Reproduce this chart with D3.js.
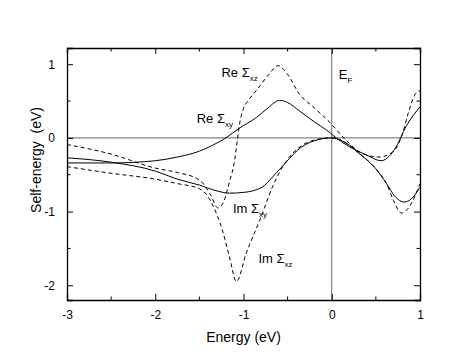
<!DOCTYPE html>
<html>
<head>
<meta charset="utf-8">
<script src="https://cdn.jsdelivr.net/npm/d3@7"></script>
<style>
  body { margin: 0; background: #fff; }
  text { font-family: "Liberation Sans", Arial, sans-serif; }
</style>
</head>
<body>
<div id="chart"></div>
<script>
// Re Σxy (solid)
const reXyE = [-3, -2.5, -2.0, -1.75, -1.5, -1.35, -1.2, -1.05, -0.85, -0.72, -0.59, -0.5, -0.37, -0.2, -0.03, 0.05, 0.2, 0.39, 0.56, 0.65, 0.73, 0.84, 0.92, 1.0];
const reXyV = [-0.34, -0.34, -0.31, -0.26, -0.18, -0.1, 0.0, 0.13, 0.28, 0.41, 0.51, 0.48, 0.37, 0.22, 0.08, 0.0, -0.12, -0.23, -0.31, -0.25, -0.12, 0.15, 0.3, 0.42];
// Re Σxz (dashed)
const reXzE = [-3, -2.5, -2.0, -1.75, -1.5, -1.37, -1.29, -1.23, -1.16, -1.1, -1.07, -1.05, -1.0, -0.95, -0.85, -0.72, -0.61, -0.5, -0.37, -0.2, -0.03, 0.16, 0.3, 0.45, 0.55, 0.65, 0.73, 0.8, 0.87, 0.94, 1.0];
const reXzV = [-0.09, -0.22, -0.41, -0.47, -0.57, -0.78, -0.95, -0.88, -0.6, -0.3, -0.03, 0.15, 0.4, 0.5, 0.65, 0.85, 0.98, 0.86, 0.6, 0.41, 0.22, -0.03, -0.18, -0.25, -0.26, -0.22, -0.14, 0.05, 0.35, 0.58, 0.64];
// Im Σxy (solid)
const imXyE = [-3, -2.5, -2.0, -1.75, -1.5, -1.3, -1.16, -1.0, -0.79, -0.67, -0.48, -0.39, -0.2, 0.0, 0.1, 0.2, 0.3, 0.4, 0.5, 0.62, 0.72, 0.82, 0.9, 1.0];
const imXyV = [-0.27, -0.33, -0.45, -0.56, -0.64, -0.72, -0.75, -0.74, -0.67, -0.53, -0.28, -0.17, -0.04, 0.0, -0.03, -0.1, -0.2, -0.3, -0.42, -0.62, -0.8, -0.87, -0.83, -0.67];
// Im Σxz (dashed)
const imXzE = [-3, -2.5, -2.0, -1.75, -1.5, -1.39, -1.35, -1.24, -1.16, -1.08, -0.97, -0.8, -0.67, -0.48, -0.39, -0.2, 0.0, 0.1, 0.2, 0.3, 0.4, 0.5, 0.62, 0.7, 0.79, 0.87, 1.0];
const imXzV = [-0.39, -0.48, -0.56, -0.62, -0.69, -0.82, -0.91, -1.25, -1.61, -1.95, -1.57, -1.07, -0.66, -0.26, -0.15, -0.03, 0.0, -0.03, -0.1, -0.2, -0.3, -0.42, -0.62, -0.85, -1.02, -0.95, -0.62];

const xTicks = [-3, -2, -1, 0, 1];
const yTicks = [-2, -1, 0, 1];

const labels = [
    { name: "Re", sub: "xz", x: -1.25, y: 0.83 },
    { name: "Re", sub: "xy", x: -1.53, y: 0.2 },
    { name: "Im", sub: "xy", x: -1.12, y: -1.02 },
    { name: "Im", sub: "xz", x: -0.83, y: -1.7 }
];

const W = 463, H = 354;
const margin = { top: 48, right: 43, bottom: 54, left: 67 };
const width = W - margin.left - margin.right;
const height = H - margin.top - margin.bottom;

const svg = d3.select("#chart").append("svg")
    .attr("width", W)
    .attr("height", H);

const g = svg.append("g")
    .attr("transform", `translate(${margin.left},${margin.top})`);

const x = d3.scaleLinear().domain([-3, 1]).range([0, width]);
const y = d3.scaleLinear().domain([-2.2, 1.22]).range([height, 0]);

// reference lines at zero
g.append("line")
    .attr("x1", 0).attr("x2", width)
    .attr("y1", y(0)).attr("y2", y(0))
    .attr("stroke", "#555").attr("stroke-width", 0.9);
g.append("line")
    .attr("x1", x(0)).attr("x2", x(0))
    .attr("y1", 0).attr("y2", height)
    .attr("stroke", "#555").attr("stroke-width", 0.9);

// curves
const line = d3.line()
    .x(d => x(d[0]))
    .y(d => y(d[1]))
    .curve(d3.curveMonotoneX);

const series = [
    { e: reXyE, v: reXyV, dash: null },
    { e: reXzE, v: reXzV, dash: "4,3" },
    { e: imXyE, v: imXyV, dash: null },
    { e: imXzE, v: imXzV, dash: "4,3" }
];

g.selectAll(".curve")
    .data(series)
    .enter()
    .append("path")
    .attr("class", "curve")
    .attr("fill", "none")
    .attr("stroke", "#000")
    .attr("stroke-width", 1)
    .attr("stroke-dasharray", d => d.dash)
    .attr("d", d => line(d.e.map((e, i) => [e, d.v[i]])));

// axes: ticks inward on all four sides
const xMinor = d3.range(-2.5, 1, 1);
const yMinor = [-1.5, -0.5, 0.5];
const fmt = d => String(d); // plain hyphen minus like the original

const axB = g.append("g").attr("transform", `translate(0,${height})`);
axB.call(d3.axisBottom(x).tickValues(xTicks).tickSize(-6).tickPadding(10).tickFormat(fmt));
axB.selectAll(".minor").data(xMinor).enter().append("line")
    .attr("x1", d => x(d)).attr("x2", d => x(d)).attr("y1", 0).attr("y2", -3.5).attr("stroke", "#000");

const axT = g.append("g");
axT.call(d3.axisTop(x).tickValues(xTicks).tickSize(-6).tickFormat(""));
axT.selectAll(".minor").data(xMinor).enter().append("line")
    .attr("x1", d => x(d)).attr("x2", d => x(d)).attr("y1", 0).attr("y2", 3.5).attr("stroke", "#000");

const axL = g.append("g");
axL.call(d3.axisLeft(y).tickValues(yTicks).tickSize(-6).tickPadding(12).tickFormat(fmt));
axL.selectAll(".minor").data(yMinor).enter().append("line")
    .attr("y1", d => y(d)).attr("y2", d => y(d)).attr("x1", 0).attr("x2", 3.5).attr("stroke", "#000");

const axR = g.append("g").attr("transform", `translate(${width},0)`);
axR.call(d3.axisRight(y).tickValues(yTicks).tickSize(-6).tickFormat(""));
axR.selectAll(".minor").data(yMinor).enter().append("line")
    .attr("y1", d => y(d)).attr("y2", d => y(d)).attr("x1", 0).attr("x2", -3.5).attr("stroke", "#000");

[axB, axT, axL, axR].forEach(a => {
    a.select(".domain").attr("stroke", "#000").attr("stroke-width", 1.3);
    a.selectAll(".tick line").attr("stroke", "#000");
    a.selectAll(".tick text")
        .attr("fill", "#000")
        .style("font-size", "12px")
        .style("font-family", "'Liberation Sans', Arial, sans-serif");
});

// axis titles
g.append("text")
    .attr("x", width / 2)
    .attr("y", height + 42)
    .attr("text-anchor", "middle")
    .style("font-size", "14px")
    .text("Energy (eV)");

svg.append("text")
    .attr("transform", "translate(41,160) rotate(-90)")
    .attr("text-anchor", "middle")
    .style("font-size", "14px")
    .style("white-space", "pre")
    .text("Self-energy  (eV)");

// curve labels
labels.forEach(l => {
    const t = g.append("text")
        .attr("x", x(l.x))
        .attr("y", y(l.y))
        .style("font-size", "13px");
    t.append("tspan").text(l.name + " \u03A3");
    t.append("tspan").attr("dy", 4).style("font-size", "8px").text(l.sub);
});

const ef = g.append("text")
    .attr("x", x(0) + 7)
    .attr("y", y(0.8))
    .style("font-size", "13px");
ef.append("tspan").text("E");
ef.append("tspan").attr("dy", 4).style("font-size", "8px").text("F");
</script>
</body>
</html>
